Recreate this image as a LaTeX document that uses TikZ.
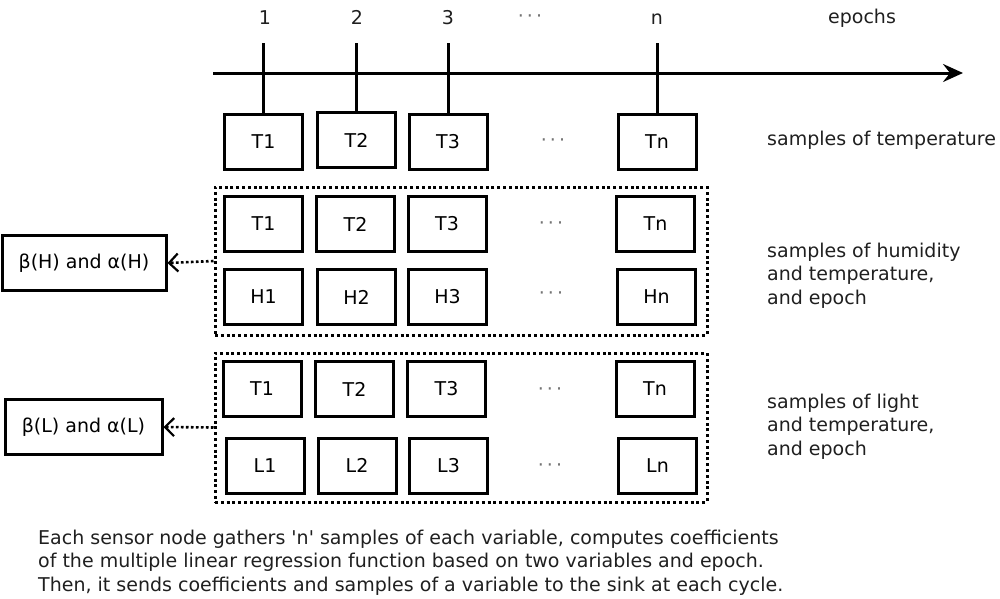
\documentclass[tikz,border=0pt]{standalone}
\usepackage{fontspec}
\setmainfont{DejaVu Sans}[Ligatures=TeXOff]
\usetikzlibrary{arrows.meta}
\tikzset{
  smp/.style={draw, line width=3pt, minimum width=78pt, minimum height=55pt, inner sep=0pt},
  coef/.style={draw, line width=3pt, minimum height=55pt, inner sep=0pt},
  grp/.style={draw, line width=3pt, dash pattern=on 3pt off 2.8pt, inner sep=0pt},
  dts/.style={text=black!55, anchor=base, inner sep=0pt},
  lbl/.style={inner sep=0pt, text=black!88},
  dotarrow/.style={line width=2.6pt, dash pattern=on 2.6pt off 2.4pt, -{Straight Barb[length=9pt,width=18pt,line width=2.2pt]}},
  tick/.style={line width=3pt},
}
\begin{document}
\begin{tikzpicture}[x=1pt,y=-1pt, font=\fontsize{19}{23.5}\selectfont]
\useasboundingbox (0,0) rectangle (1000,598);
% epoch labels
\node[lbl, anchor=base] (e1) at (265,24) {1};
\node[lbl, anchor=base] (e2) at (357,24) {2};
\node[lbl, anchor=base] (e3) at (448,24) {3};
\node[dts] (edots) at (530,22) {·\,·\,·};
\node[lbl, anchor=base] (en) at (657,24) {n};
\node[lbl, anchor=base] (epochs) at (862,23) {epochs};
% axis
\coordinate (axs) at (213,73);
\coordinate (axe) at (963,73);
\draw[line width=3pt, -{Stealth[length=20pt,width=18pt,inset=7pt]}] (axs) -- (axe);
% top row
\node[smp] (t1) at (263.5,141.5) {T1};
\node[smp] (t2) at (356.5,140) {T2};
\node[smp] (t3) at (448,141.5) {T3};
\node[dts] (tdots) at (553,146) {·\,·\,·};
\node[smp] (tn) at (657,141.5) {Tn};
\coordinate (k1) at (t1.north |- 0,43);
\coordinate (k2) at (t2.north |- 0,43);
\coordinate (k3) at (t3.north |- 0,43);
\coordinate (kn) at (tn.north |- 0,43);
\draw[tick] (k1) -- (t1.north);
\draw[tick] (k2) -- (t2.north);
\draw[tick] (k3) -- (t3.north);
\draw[tick] (kn) -- (tn.north);
\node[lbl, anchor=west] (stemp) at (767,140) {samples of temperature};
% humidity group
\node[grp, minimum width=492pt, minimum height=148pt] (gh) at (461,261) {};
\node[smp] (ht1) at (263.5,224) {T1};
\node[smp] (ht2) at (355.5,224) {T2};
\node[smp] (ht3) at (447,224) {T3};
\node[dts] (htdots) at (551,229) {·\,·\,·};
\node[smp] (htn) at (655.5,224) {Tn};
\node[smp] (h1) at (263.5,297) {H1};
\node[smp] (h2) at (356.5,297) {H2};
\node[smp] (h3) at (447.5,297) {H3};
\node[dts] (hdots) at (551,299) {·\,·\,·};
\node[smp] (hn) at (656.5,297) {Hn};
\node[lbl, anchor=north west, align=left] (shum) at (767,242.6) {samples of humidity\\and temperature,\\and epoch};
\node[coef, minimum width=164pt] (bh) at (84,263) {β(H) and α(H)};
\draw[dotarrow] (gh.west) -- (bh.east);
% light group
\node[grp, minimum width=492pt, minimum height=149pt] (gl) at (461,427.5) {};
\node[smp] (lt1) at (262,389) {T1};
\node[smp] (lt2) at (354.5,389) {T2};
\node[smp] (lt3) at (446.5,389) {T3};
\node[dts] (ltdots) at (550,395) {·\,·\,·};
\node[smp] (ltn) at (655,389) {Tn};
\node[smp] (l1) at (265,465.5) {L1};
\node[smp] (l2) at (357,465.5) {L2};
\node[smp] (l3) at (448.5,465.5) {L3};
\node[dts] (ldots) at (550,471) {·\,·\,·};
\node[smp] (ln) at (657.5,465.5) {Ln};
\node[lbl, anchor=north west, align=left] (slight) at (767,393.6) {samples of light\\and temperature,\\and epoch};
\node[coef, minimum width=157pt] (bl) at (83.5,427) {β(L) and α(L)};
\draw[dotarrow] (gl.west) -- (bl.east);
% caption
\node[lbl, anchor=north west, align=left] (cap) at (38,529.6) {Each sensor node gathers 'n' samples of each variable, computes coefficients\\of the multiple linear regression function based on two variables and epoch.\\Then, it sends coefficients and samples of a variable to the sink at each cycle.};
\end{tikzpicture}
\end{document}
